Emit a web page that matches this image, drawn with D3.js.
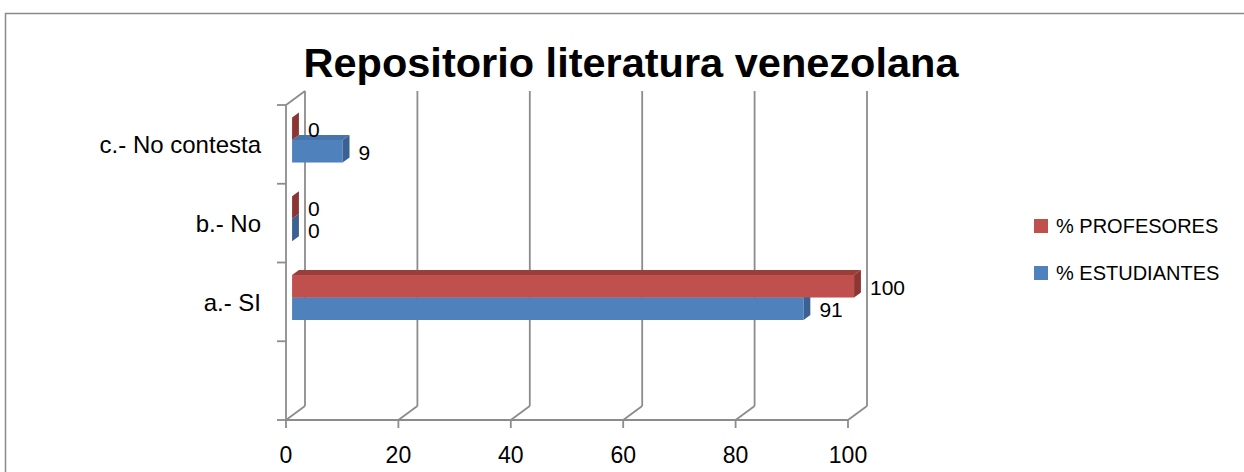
<!DOCTYPE html>
<html>
<head>
<meta charset="utf-8">
<script src="https://cdn.jsdelivr.net/npm/d3@7"></script>
<style>
  body { margin: 0; background: #fff; }
  svg { display: block; font-family: "Liberation Sans", Arial, sans-serif; }
</style>
</head>
<body>
<div id="chart"></div>
<script>
// data (top to bottom; last row is an empty category)
const categories = ["c.- No contesta", "b.- No", "a.- SI", ""];
const series = ["% PROFESORES", "% ESTUDIANTES"];
const profesores = [0, 0, 100, null];
const estudiantes = [9, 0, 91, null];
const xTicks = [0, 20, 40, 60, 80, 100];

const width = 1244, height = 472;
const colors = {
  "% PROFESORES": { front: "#C0504D", top: "#9B3D3A", side: "#8C3633" },
  "% ESTUDIANTES": { front: "#4F81BD", top: "#4675AD", side: "#3A6192" }
};
const depth = { dx: 19, dy: -14 };
const barFront = 0.32, barBack = 0.68;

let svg = d3.select("#chart")
    .append("svg")
    .attr("width", width)
    .attr("height", height);

// outer chart border (only top and left visible)
svg.append("rect")
    .attr("x", 5.5).attr("y", 13.5)
    .attr("width", 1400).attr("height", 600)
    .attr("fill", "none")
    .attr("stroke", "#8a8a8a")
    .attr("stroke-width", 1.5);

let x = d3.scaleLinear()
    .domain([0, 100])
    .range([286, 848]);

let y = d3.scaleBand()
    .domain(categories)
    .range([105, 420]);

let inner = d3.scaleBand()
    .domain(series)
    .range([17, 62]);

const grid = "#8c8c8c";
let axes = svg.append("g")
    .attr("fill", "none")
    .attr("stroke", grid)
    .attr("stroke-width", 1.8);

const y0 = y.range()[0], y1 = y.range()[1];

// back wall gridlines + floor diagonals
xTicks.forEach(function(t) {
    let bx = x(t) + depth.dx;
    axes.append("line")
        .attr("x1", bx).attr("y1", y0 + depth.dy)
        .attr("x2", bx).attr("y2", y1 + depth.dy);
    axes.append("line")
        .attr("x1", x(t)).attr("y1", y1)
        .attr("x2", bx).attr("y2", y1 + depth.dy);
    axes.append("line")
        .attr("x1", x(t)).attr("y1", y1)
        .attr("x2", x(t)).attr("y2", y1 + 8);
});

// left wall
axes.append("line")
    .attr("x1", x(0)).attr("y1", y0)
    .attr("x2", x(0)).attr("y2", y1);
axes.append("line")
    .attr("x1", x(0)).attr("y1", y0)
    .attr("x2", x(0) + depth.dx).attr("y2", y0 + depth.dy);
// front floor edge
axes.append("line")
    .attr("x1", x(0)).attr("y1", y1)
    .attr("x2", x(100)).attr("y2", y1);
// category ticks
categories.forEach(function(c) {
    axes.append("line")
        .attr("x1", x(0) - 9).attr("y1", y(c))
        .attr("x2", x(0)).attr("y2", y(c));
});
axes.append("line")
    .attr("x1", x(0) - 9).attr("y1", y1)
    .attr("x2", x(0)).attr("y2", y1);

// tick labels
svg.append("g").selectAll("text")
    .data(xTicks)
    .enter()
    .append("text")
    .attr("x", d => x(d))
    .attr("y", 463)
    .attr("text-anchor", "middle")
    .style("font-size", "23px")
    .attr("fill", "#000")
    .text(d => d);

svg.append("g").selectAll("text")
    .data(categories)
    .enter()
    .append("text")
    .attr("x", 261)
    .attr("y", d => y(d) + y.bandwidth() / 2 + 9)
    .attr("text-anchor", "end")
    .style("font-size", "24px")
    .attr("fill", "#000")
    .text(d => d);

// bars
let rows = [];
categories.forEach(function(c, i) {
    if (estudiantes[i] != null) rows.push({ cat: c, s: "% ESTUDIANTES", v: estudiantes[i] });
    if (profesores[i] != null) rows.push({ cat: c, s: "% PROFESORES", v: profesores[i] });
});

const fx = depth.dx * barFront, fy = depth.dy * barFront;
const bw = depth.dx * (barBack - barFront), bh = depth.dy * (barBack - barFront);

let bars = svg.append("g");
rows.forEach(function(d) {
    let top = y(d.cat) + inner(d.s) + fy;
    let bot = top + inner.bandwidth();
    let xa = x(0) + fx, xb = x(d.v) + fx;
    let col = colors[d.s];
    let g = bars.append("g");
    if (d.v > 0) {
        g.append("rect")
            .attr("x", xa).attr("y", top)
            .attr("width", xb - xa).attr("height", bot - top)
            .attr("fill", col.front);
        g.append("polygon")
            .attr("points", [[xa, top], [xb, top], [xb + bw, top + bh], [xa + bw, top + bh]].join(" "))
            .attr("fill", col.top);
    }
    g.append("polygon")
        .attr("points", [[xb, top], [xb + bw, top + bh], [xb + bw, bot + bh], [xb, bot]].join(" "))
        .attr("fill", col.side);

    svg.append("text")
        .attr("x", x(d.v) + 22)
        .attr("y", bot - 3)
        .style("font-size", "21px")
        .attr("fill", "#000")
        .text(d.v);
});

// title
svg.append("text")
    .attr("x", 631)
    .attr("y", 77)
    .attr("text-anchor", "middle")
    .style("font-size", "41.5px")
    .style("font-weight", "bold")
    .attr("fill", "#000")
    .text("Repositorio literatura venezolana");

// legend
let legend = svg.append("g")
    .selectAll("g")
    .data(series)
    .enter()
    .append("g")
    .attr("transform", (d, i) => `translate(1034, ${219 + i * 47})`);

legend.append("rect")
    .attr("width", 14).attr("height", 14)
    .attr("fill", d => colors[d].front);

legend.append("text")
    .attr("x", 22)
    .attr("y", 14)
    .style("font-size", "20px")
    .attr("fill", "#000")
    .text(d => d);
</script>
</body>
</html>
